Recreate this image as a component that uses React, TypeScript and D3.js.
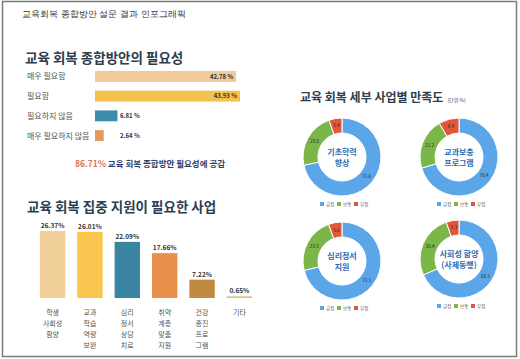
import React from "react";
import * as d3 from "d3";

// 교육 회복 종합방안의 필요성
const needLabels = ["매우 필요함", "필요함", "필요하지 않음", "매우 필요하지 않음"];
const needValues = [42.78, 43.93, 6.81, 2.64];
const needColors = ["#f2c998", "#f6c24e", "#3c8ba8", "#e8995a"];

// 교육 회복 집중 지원이 필요한 사업
const supportCats = [
  ["학생", "사회성", "함양"],
  ["교과", "학습", "역량", "보완"],
  ["심리", "정서", "상담", "치료"],
  ["취약", "계층", "맞춤", "지원"],
  ["건강", "증진", "프로", "그램"],
  ["기타"],
];
const supportValues = [26.37, 26.01, 22.09, 17.66, 7.22, 0.65];
const supportColors = ["#f1cf98", "#f9c64f", "#3a86a2", "#e9914c", "#c08a40", "#d8c46c"];

// 세부 사업별 만족도 (단위 %)
const programNames = [["기초학력", "향상"], ["교과보충", "프로그램"], ["심리정서", "지원"], ["사회성 함양", "(사제동행)"]];
const positive = [71.6, 70.4, 71.1, 68.3];
const neutral = [23.0, 21.2, 23.3, 26.4];
const negative = [5.4, 8.4, 5.6, 5.3];
const legendNames = ["긍정", "보통", "부정"];
const donutColors = ["#5ba6e9", "#7bb649", "#e1573b"];

const FONT = "'Noto Sans CJK KR', 'Noto Sans', sans-serif";

export default function App() {
  const x1 = d3.scaleLinear().domain([0, 43.93]).range([95, 240]);
  const y1 = d3.scaleBand().domain(needLabels).range([69, 143]).paddingInner(0.45).paddingOuter(0.1);

  const x2 = d3.scaleBand().domain(supportCats.map((c) => c[0])).range([38, 254]).paddingInner(0.32).paddingOuter(0.05);
  const y2 = d3.scaleLinear().domain([0, 26.37]).range([298, 231]);

  const pie = d3.pie<number>().sort(null).value((d) => d);
  const arc = d3.arc<d3.PieArcDatum<number>>().innerRadius(24).outerRadius(39);
  const labelArc = d3.arc<d3.PieArcDatum<number>>().innerRadius(31.5).outerRadius(31.5);
  const centers = [
    [342, 157],
    [459, 157],
    [342, 261],
    [459, 259],
  ];

  return (
    <svg width={520} height={359} style={{ position: "absolute", left: 0, top: 0, fontFamily: FONT }}>
      <rect x={0} y={0} width={520} height={359} fill="#fff" />
      <rect x={2.5} y={1.5} width={514} height={355} fill="none" stroke="#7a7a7a" strokeWidth={1.5} />
      <text x={22} y={17} fontSize={8.5} fill="#333" fontFamily="'DejaVu Serif', serif">
        교육회복 종합방안 설문 결과 인포그래픽
      </text>

      {/* section 1 */}
      <text x={25} y={63} fontSize={13.5} fontWeight={700} fill="#2e3d4f">
        교육 회복 종합방안의 필요성
      </text>
      {needLabels.map((l, i) => {
        const y = y1(l)!;
        const h = y1.bandwidth();
        const inside = needValues[i] > 20;
        return (
          <g key={l}>
            <text x={27} y={y + h / 2 + 3} fontSize={8} fill="#555">
              {l}
            </text>
            <rect x={x1(0)} y={y} width={x1(needValues[i]) - x1(0)} height={h} fill={needColors[i]} />
            <text
              x={inside ? x1(needValues[i]) - 3 : 120}
              y={y + h / 2 + 2.2}
              fontSize={6}
              fontWeight={700}
              fill="#333"
              textAnchor={inside ? "end" : "start"}
            >
              {needValues[i].toFixed(2)} %
            </text>
          </g>
        );
      })}
      <text x={150} y={167} fontSize={8.5} fontWeight={700} textAnchor="middle" fill="#2d3e6b">
        <tspan fill="#e0744b">{(needValues[0] + needValues[1]).toFixed(2)}%</tspan> 교육 회복 종합방안 필요성에 공감
      </text>

      {/* section 2 */}
      <text x={27} y={212} fontSize={13.5} fontWeight={700} fill="#2e3d4f">
        교육 회복 집중 지원이 필요한 사업
      </text>
      {supportCats.map((c, i) => {
        const x = x2(c[0])!;
        const w = x2.bandwidth();
        return (
          <g key={c.join("")}>
            <rect x={x} y={y2(supportValues[i])} width={w} height={y2(0) - y2(supportValues[i])} fill={supportColors[i]} />
            <text x={x + w / 2} y={y2(supportValues[i]) - 3} fontSize={6.5} fontWeight={700} fill="#333" textAnchor="middle">
              {supportValues[i].toFixed(2)}%
            </text>
            {c.map((t, j) => (
              <text key={t} x={x + w / 2} y={315 + j * 11} fontSize={7} fill="#555" textAnchor="middle">
                {t}
              </text>
            ))}
          </g>
        );
      })}

      {/* section 3 */}
      <text x={300} y={102} fontSize={12} fontWeight={700} fill="#2e3d4f">
        교육 회복 세부 사업별 만족도
        <tspan fontSize={5} fontWeight={400} dx={4}>(단위 %)</tspan>
      </text>
      {programNames.map((name, i) => {
        const [cx, cy] = centers[i];
        const vals = [positive[i], neutral[i], negative[i]];
        const arcs = pie(vals);
        return (
          <g key={i} transform={`translate(${cx},${cy})`}>
            {arcs.map((a, k) => (
              <path key={k} d={arc(a)!} fill={donutColors[k]} stroke="#fff" strokeWidth={1} />
            ))}
            {arcs.map((a, k) => {
              const [lx, ly] = labelArc.centroid(a);
              return (
                <text key={"l" + k} x={lx} y={ly + 1.5} fontSize={4.5} fill="#222" textAnchor="middle">
                  {vals[k].toFixed(1)}
                </text>
              );
            })}
            {name.map((t, j) => (
              <text key={t} x={0} y={-2 + j * 11} fontSize={8} fontWeight={700} fill="#2a6bb3" textAnchor="middle">
                {t}
              </text>
            ))}
            {legendNames.map((ln, k) => (
              <g key={ln} transform={`translate(${-22 + k * 17},${48})`}>
                <rect x={0} y={-3} width={4} height={4} fill={donutColors[k]} />
                <text x={6} y={1} fontSize={4.5} fill="#555">
                  {ln}
                </text>
              </g>
            ))}
          </g>
        );
      })}
    </svg>
  );
}
